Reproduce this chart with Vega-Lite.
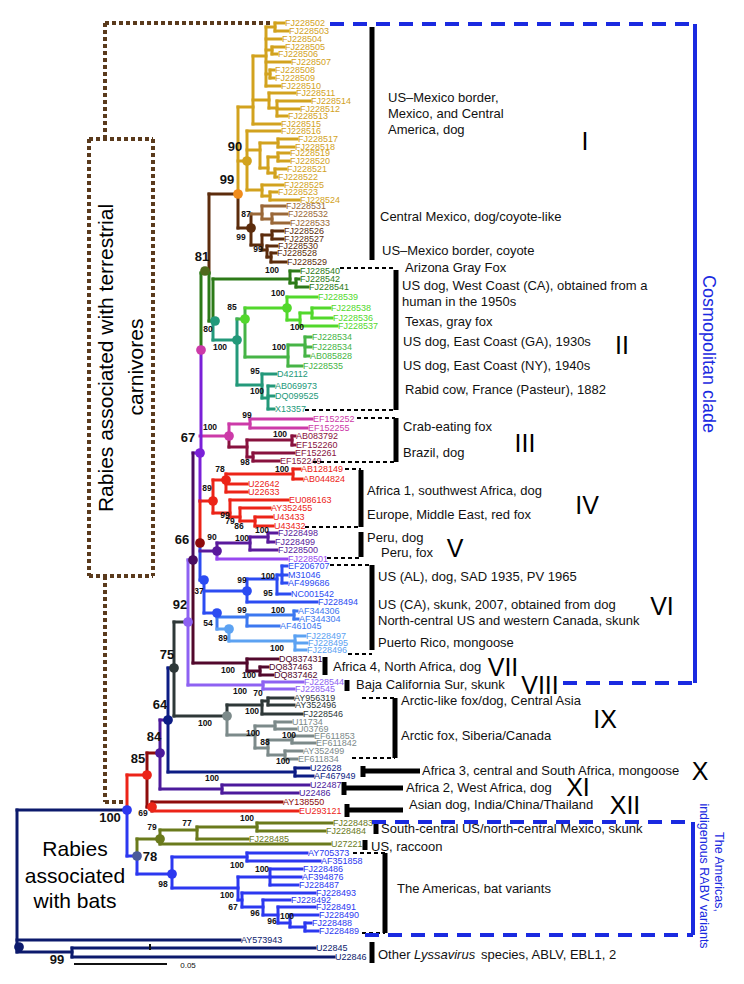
{
"$schema": "https://vega.github.io/schema/vega-lite/v6.json",
"width": 744, "height": 984, "padding": 0, "autosize": {"type": "none"},
"config": {"view": {"stroke": null}, "font": "Liberation Sans"},
"datasets": {
"seg": [
{"x":253,"x2":253,"y":56,"y2":124,"g":"gold"},{"x":238,"x2":238,"y":107,"y2":194,"g":"gold"},{"x":238,"x2":238,"y":194,"y2":228,"g":"brown"},
{"x":238,"x2":253,"y":107,"y2":107,"g":"gold"},{"x":238,"x2":247,"y":161,"y2":161,"g":"gold"},{"x":238,"x2":251,"y":228,"y2":228,"g":"brown"},{"x":209,"x2":238,"y":194,"y2":194,"g":"brown"},
{"x":266,"x2":266,"y":27,"y2":86,"g":"gold"},{"x":253,"x2":266,"y":56,"y2":56,"g":"gold"},{"x":266,"x2":275,"y":27,"y2":27,"g":"gold"},{"x":275,"x2":275,"y":23,"y2":31,"g":"gold"},
{"x":266,"x2":272,"y":50,"y2":50,"g":"gold"},{"x":272,"x2":272,"y":47,"y2":54,"g":"gold"},{"x":266,"x2":270,"y":74,"y2":74,"g":"gold"},{"x":270,"x2":270,"y":70,"y2":78,"g":"gold"},
{"x":253,"x2":269,"y":100,"y2":100,"g":"gold"},{"x":269,"x2":269,"y":93,"y2":108,"g":"gold"},{"x":269,"x2":277,"y":108,"y2":108,"g":"gold"},{"x":277,"x2":277,"y":101,"y2":116,"g":"gold"},
{"x":247,"x2":247,"y":131,"y2":190,"g":"gold"},{"x":247,"x2":260,"y":150,"y2":150,"g":"gold"},{"x":260,"x2":260,"y":143,"y2":168,"g":"gold"},{"x":260,"x2":278,"y":143,"y2":143,"g":"gold"},{"x":278,"x2":278,"y":139,"y2":147,"g":"gold"},
{"x":260,"x2":268,"y":168,"y2":168,"g":"gold"},{"x":268,"x2":268,"y":157,"y2":173,"g":"gold"},{"x":268,"x2":278,"y":157,"y2":157,"g":"gold"},{"x":278,"x2":278,"y":153,"y2":161,"g":"gold"},
{"x":268,"x2":275,"y":173,"y2":173,"g":"gold"},{"x":275,"x2":275,"y":169,"y2":177,"g":"gold"},{"x":247,"x2":262,"y":190,"y2":190,"g":"gold"},{"x":262,"x2":262,"y":185,"y2":196,"g":"gold"},
{"x":262,"x2":270,"y":196,"y2":196,"g":"gold"},{"x":270,"x2":270,"y":192,"y2":200,"g":"gold"},
{"x":251,"x2":251,"y":214,"y2":245,"g":"brown"},{"x":251,"x2":262,"y":214,"y2":214,"g":"lbrown"},{"x":262,"x2":262,"y":206,"y2":219,"g":"lbrown"},{"x":262,"x2":272,"y":219,"y2":219,"g":"lbrown"},{"x":272,"x2":272,"y":214,"y2":223,"g":"lbrown"},
{"x":251,"x2":262,"y":245,"y2":245,"g":"brown"},{"x":262,"x2":262,"y":235,"y2":250,"g":"brown"},{"x":262,"x2":272,"y":235,"y2":235,"g":"brown"},{"x":272,"x2":272,"y":231,"y2":239,"g":"brown"},
{"x":262,"x2":267,"y":250,"y2":250,"g":"brown"},{"x":267,"x2":267,"y":246,"y2":257,"g":"brown"},{"x":267,"x2":271,"y":257,"y2":257,"g":"brown"},{"x":271,"x2":271,"y":253,"y2":262,"g":"brown"},
{"x":209,"x2":209,"y":194,"y2":273,"g":"brown"},{"x":209,"x2":209,"y":273,"y2":321,"g":"dgreen"},{"x":201,"x2":209,"y":273,"y2":273,"g":"dgreen"},{"x":209,"x2":213,"y":321,"y2":321,"g":"dgreen"},
{"x":213,"x2":213,"y":279,"y2":321,"g":"dgreen"},{"x":213,"x2":213,"y":321,"y2":340,"g":"teal"},
{"x":213,"x2":290,"y":279,"y2":279,"g":"dgreen"},{"x":290,"x2":290,"y":271,"y2":283,"g":"dgreen"},{"x":290,"x2":296,"y":283,"y2":283,"g":"dgreen"},{"x":296,"x2":296,"y":279,"y2":287,"g":"dgreen"},
{"x":213,"x2":237,"y":340,"y2":340,"g":"teal"},{"x":237,"x2":237,"y":319,"y2":385,"g":"teal"},
{"x":237,"x2":245,"y":319,"y2":319,"g":"mgreen"},{"x":245,"x2":245,"y":308,"y2":357,"g":"mgreen"},
{"x":245,"x2":287,"y":308,"y2":308,"g":"bgreen"},{"x":287,"x2":287,"y":297,"y2":320,"g":"bgreen"},{"x":287,"x2":300,"y":320,"y2":320,"g":"bgreen"},{"x":300,"x2":300,"y":313,"y2":326,"g":"bgreen"},{"x":300,"x2":312,"y":313,"y2":313,"g":"bgreen"},{"x":312,"x2":312,"y":308,"y2":318,"g":"bgreen"},
{"x":245,"x2":288,"y":357,"y2":357,"g":"mgreen"},{"x":288,"x2":288,"y":345,"y2":366,"g":"mgreen"},{"x":288,"x2":305,"y":345,"y2":345,"g":"mgreen"},{"x":305,"x2":305,"y":337,"y2":356,"g":"mgreen"},
{"x":237,"x2":262,"y":385,"y2":385,"g":"teal"},{"x":262,"x2":262,"y":374,"y2":398,"g":"teal"},{"x":262,"x2":268,"y":398,"y2":398,"g":"teal"},{"x":268,"x2":268,"y":386,"y2":409,"g":"teal"},
{"x":200,"x2":229,"y":436,"y2":436,"g":"magenta"},{"x":229,"x2":229,"y":424,"y2":436,"g":"magenta"},{"x":229,"x2":229,"y":436,"y2":447,"g":"dmagenta"},
{"x":229,"x2":250,"y":424,"y2":424,"g":"magenta"},{"x":250,"x2":250,"y":419,"y2":428,"g":"magenta"},
{"x":229,"x2":247,"y":447,"y2":447,"g":"dmagenta"},{"x":247,"x2":247,"y":440,"y2":457,"g":"dmagenta"},{"x":247,"x2":292,"y":440,"y2":440,"g":"dmagenta"},{"x":292,"x2":292,"y":436,"y2":445,"g":"dmagenta"},{"x":247,"x2":253,"y":457,"y2":457,"g":"dmagenta"},{"x":253,"x2":253,"y":453,"y2":461,"g":"dmagenta"},
{"x":200,"x2":213,"y":501,"y2":501,"g":"red"},{"x":213,"x2":213,"y":480,"y2":513,"g":"red"},
{"x":213,"x2":226,"y":480,"y2":480,"g":"red"},{"x":226,"x2":226,"y":474,"y2":492,"g":"red"},{"x":226,"x2":293,"y":474,"y2":474,"g":"red"},{"x":293,"x2":293,"y":469,"y2":479,"g":"red"},
{"x":213,"x2":230,"y":513,"y2":513,"g":"red"},{"x":230,"x2":230,"y":500,"y2":517,"g":"red"},{"x":230,"x2":240,"y":517,"y2":517,"g":"red"},{"x":240,"x2":240,"y":508,"y2":521,"g":"red"},{"x":240,"x2":255,"y":521,"y2":521,"g":"red"},{"x":255,"x2":255,"y":517,"y2":526,"g":"red"},
{"x":201,"x2":201,"y":273,"y2":350,"g":"dgreen"},{"x":201,"x2":201,"y":350,"y2":453,"g":"purple"},{"x":200,"x2":200,"y":453,"y2":501,"g":"purple"},{"x":200,"x2":200,"y":501,"y2":543,"g":"red"},{"x":200,"x2":200,"y":543,"y2":580,"g":"blue"},
{"x":193,"x2":200,"y":453,"y2":453,"g":"purple"},
{"x":200,"x2":217,"y":551,"y2":551,"g":"dpurple"},{"x":217,"x2":217,"y":543,"y2":551,"g":"dpurple"},{"x":217,"x2":217,"y":551,"y2":559,"g":"lpurple"},
{"x":217,"x2":250,"y":543,"y2":543,"g":"dpurple"},{"x":250,"x2":250,"y":537,"y2":550,"g":"dpurple"},{"x":250,"x2":268,"y":537,"y2":537,"g":"dpurple"},{"x":268,"x2":268,"y":533,"y2":542,"g":"dpurple"},
{"x":200,"x2":204,"y":580,"y2":580,"g":"blue"},{"x":204,"x2":204,"y":580,"y2":613,"g":"blue"},
{"x":204,"x2":247,"y":591,"y2":591,"g":"blue"},{"x":247,"x2":247,"y":579,"y2":602,"g":"blue"},{"x":247,"x2":277,"y":579,"y2":579,"g":"blue"},{"x":277,"x2":277,"y":575,"y2":594,"g":"blue"},{"x":277,"x2":282,"y":575,"y2":575,"g":"blue"},{"x":282,"x2":282,"y":566,"y2":583,"g":"blue"},
{"x":204,"x2":217,"y":613,"y2":613,"g":"blue"},{"x":217,"x2":217,"y":613,"y2":629,"g":"lblue"},{"x":217,"x2":247,"y":617,"y2":617,"g":"lblue"},{"x":247,"x2":247,"y":615,"y2":626,"g":"lblue"},{"x":247,"x2":294,"y":615,"y2":615,"g":"lblue"},{"x":294,"x2":294,"y":611,"y2":619,"g":"lblue"},
{"x":217,"x2":229,"y":629,"y2":629,"g":"llblue"},{"x":229,"x2":229,"y":629,"y2":641,"g":"llblue"},{"x":229,"x2":295,"y":641,"y2":641,"g":"llblue"},{"x":295,"x2":295,"y":636,"y2":650,"g":"llblue"},
{"x":193,"x2":193,"y":453,"y2":560,"g":"dpspine"},{"x":193,"x2":193,"y":560,"y2":663,"g":"maroon"},
{"x":193,"x2":247,"y":663,"y2":663,"g":"maroon"},{"x":247,"x2":247,"y":659,"y2":671,"g":"maroon"},{"x":247,"x2":260,"y":671,"y2":671,"g":"maroon"},{"x":260,"x2":260,"y":667,"y2":675,"g":"maroon"},
{"x":188,"x2":193,"y":560,"y2":560,"g":"lilac"},{"x":188,"x2":188,"y":560,"y2":685,"g":"lilac"},{"x":188,"x2":263,"y":685,"y2":685,"g":"lilac"},{"x":263,"x2":263,"y":682,"y2":689,"g":"lilac"},
{"x":174,"x2":188,"y":622,"y2":622,"g":"slate"},{"x":174,"x2":174,"y":622,"y2":716,"g":"slate"},
{"x":174,"x2":227,"y":716,"y2":716,"g":"slate"},{"x":227,"x2":227,"y":705,"y2":716,"g":"slate"},{"x":227,"x2":227,"y":716,"y2":735,"g":"gray"},
{"x":227,"x2":262,"y":705,"y2":705,"g":"slate"},{"x":262,"x2":262,"y":701,"y2":714,"g":"slate"},{"x":262,"x2":268,"y":701,"y2":701,"g":"slate"},{"x":268,"x2":268,"y":698,"y2":705,"g":"slate"},
{"x":227,"x2":255,"y":735,"y2":735,"g":"gray"},{"x":255,"x2":255,"y":726,"y2":748,"g":"gray"},{"x":255,"x2":275,"y":726,"y2":726,"g":"gray"},{"x":275,"x2":275,"y":722,"y2":729,"g":"gray"},
{"x":255,"x2":268,"y":748,"y2":748,"g":"gray"},{"x":268,"x2":268,"y":740,"y2":755,"g":"gray"},{"x":268,"x2":292,"y":740,"y2":740,"g":"gray"},{"x":292,"x2":292,"y":736,"y2":743,"g":"gray"},{"x":268,"x2":285,"y":755,"y2":755,"g":"gray"},{"x":285,"x2":285,"y":751,"y2":759,"g":"gray"},
{"x":168,"x2":174,"y":668,"y2":668,"g":"navy"},{"x":168,"x2":168,"y":668,"y2":772,"g":"navy"},{"x":168,"x2":295,"y":772,"y2":772,"g":"navy"},{"x":295,"x2":295,"y":768,"y2":776,"g":"navy"},
{"x":160,"x2":168,"y":720,"y2":720,"g":"xi"},{"x":160,"x2":160,"y":720,"y2":789,"g":"xi"},{"x":160,"x2":222,"y":789,"y2":789,"g":"xi"},{"x":222,"x2":222,"y":785,"y2":793,"g":"xi"},
{"x":147,"x2":160,"y":753,"y2":753,"g":"dred"},{"x":147,"x2":147,"y":753,"y2":807,"g":"dred"},{"x":147,"x2":152,"y":807,"y2":807,"g":"dred"},{"x":152,"x2":152,"y":802,"y2":811,"g":"dred"},
{"x":127,"x2":147,"y":775,"y2":775,"g":"red"},{"x":127,"x2":127,"y":775,"y2":810,"g":"red"},{"x":127,"x2":127,"y":810,"y2":856,"g":"bat"},{"x":17,"x2":127,"y":810,"y2":810,"g":"root"},{"x":127,"x2":137,"y":856,"y2":856,"g":"bat"},
{"x":137,"x2":137,"y":839,"y2":856,"g":"olive"},{"x":137,"x2":137,"y":856,"y2":874,"g":"bat"},
{"x":137,"x2":160,"y":839,"y2":839,"g":"olive"},{"x":160,"x2":160,"y":830,"y2":844,"g":"olive"},{"x":160,"x2":197,"y":830,"y2":830,"g":"olive"},{"x":197,"x2":197,"y":827,"y2":839,"g":"olive"},{"x":197,"x2":257,"y":827,"y2":827,"g":"olive"},{"x":257,"x2":257,"y":823,"y2":831,"g":"olive"},
{"x":137,"x2":172,"y":874,"y2":874,"g":"bat"},{"x":172,"x2":172,"y":857,"y2":888,"g":"bat"},{"x":172,"x2":247,"y":857,"y2":857,"g":"bat"},{"x":247,"x2":247,"y":853,"y2":861,"g":"bat"},
{"x":172,"x2":238,"y":888,"y2":888,"g":"bat"},{"x":238,"x2":238,"y":877,"y2":900,"g":"bat"},{"x":238,"x2":270,"y":877,"y2":877,"g":"bat"},{"x":270,"x2":270,"y":869,"y2":885,"g":"bat"},
{"x":238,"x2":242,"y":900,"y2":900,"g":"bat"},{"x":242,"x2":242,"y":893,"y2":907,"g":"bat"},{"x":242,"x2":263,"y":907,"y2":907,"g":"bat"},{"x":263,"x2":263,"y":900,"y2":915,"g":"bat"},
{"x":263,"x2":278,"y":915,"y2":915,"g":"bat"},{"x":278,"x2":278,"y":907,"y2":923,"g":"bat"},{"x":278,"x2":290,"y":923,"y2":923,"g":"bat"},{"x":290,"x2":290,"y":915,"y2":927,"g":"bat"},{"x":290,"x2":305,"y":927,"y2":927,"g":"bat"},{"x":305,"x2":305,"y":923,"y2":931,"g":"bat"},
{"x":17,"x2":17,"y":810,"y2":952,"g":"root"},{"x":17,"x2":72,"y":952,"y2":952,"g":"root"},{"x":72,"x2":72,"y":948,"y2":957,"g":"root"}
],
"leaf": [
{"n":"FJ228502","p":275,"x":284,"y":23,"g":"gold"},{"n":"FJ228503","p":275,"x":288,"y":31,"g":"gold"},{"n":"FJ228504","p":266,"x":281,"y":39,"g":"gold"},{"n":"FJ228505","p":272,"x":284,"y":47,"g":"gold"},
{"n":"FJ228506","p":272,"x":277,"y":54,"g":"gold"},{"n":"FJ228507","p":266,"x":290,"y":62,"g":"gold"},{"n":"FJ228508","p":270,"x":274,"y":70,"g":"gold"},{"n":"FJ228509","p":270,"x":274,"y":78,"g":"gold"},
{"n":"FJ228510","p":266,"x":280,"y":86,"g":"gold"},{"n":"FJ228511","p":269,"x":295,"y":93,"g":"gold"},{"n":"FJ228514","p":277,"x":310,"y":101,"g":"gold"},{"n":"FJ228512","p":277,"x":299,"y":109,"g":"gold"},
{"n":"FJ228513","p":277,"x":287,"y":116,"g":"gold"},{"n":"FJ228515","p":253,"x":280,"y":124,"g":"gold"},{"n":"FJ228516","p":247,"x":280,"y":131,"g":"gold"},{"n":"FJ228517","p":278,"x":297,"y":139,"g":"gold"},
{"n":"FJ228518","p":278,"x":294,"y":147,"g":"gold"},{"n":"FJ228519","p":278,"x":289,"y":153,"g":"gold"},{"n":"FJ228520","p":278,"x":289,"y":161,"g":"gold"},{"n":"FJ228521","p":275,"x":286,"y":169,"g":"gold"},
{"n":"FJ228522","p":275,"x":277,"y":177,"g":"gold"},{"n":"FJ228525","p":262,"x":283,"y":185,"g":"gold"},{"n":"FJ228523","p":270,"x":277,"y":192,"g":"gold"},{"n":"FJ228524","p":270,"x":299,"y":200,"g":"gold"},
{"n":"FJ228531","p":262,"x":285,"y":206,"g":"lbrown"},{"n":"FJ228532","p":272,"x":287,"y":214,"g":"lbrown"},{"n":"FJ228533","p":272,"x":289,"y":223,"g":"lbrown"},
{"n":"FJ228526","p":272,"x":283,"y":231,"g":"brown"},{"n":"FJ228527","p":272,"x":283,"y":239,"g":"brown"},{"n":"FJ228530","p":267,"x":277,"y":246,"g":"brown"},{"n":"FJ228528","p":271,"x":276,"y":253,"g":"brown"},{"n":"FJ228529","p":271,"x":286,"y":262,"g":"brown"},
{"n":"FJ228540","p":290,"x":299,"y":271,"g":"dgreen"},{"n":"FJ228542","p":296,"x":299,"y":279,"g":"dgreen"},{"n":"FJ228541","p":296,"x":308,"y":287,"g":"dgreen"},
{"n":"FJ228539","p":287,"x":317,"y":297,"g":"bgreen"},{"n":"FJ228538","p":312,"x":330,"y":308,"g":"bgreen"},{"n":"FJ228536","p":312,"x":332,"y":318,"g":"bgreen"},{"n":"FJ228537","p":300,"x":337,"y":326,"g":"bgreen"},
{"n":"FJ228534","p":305,"x":311,"y":337,"g":"mgreen"},{"n":"FJ228534","p":305,"x":311,"y":347,"g":"mgreen"},{"n":"AB085828","p":305,"x":309,"y":356,"g":"mgreen"},{"n":"FJ228535","p":288,"x":302,"y":366,"g":"mgreen"},
{"n":"D42112","p":262,"x":276,"y":374,"g":"teal"},{"n":"AB069973","p":268,"x":274,"y":386,"g":"teal"},{"n":"DQ099525","p":268,"x":274,"y":396,"g":"teal"},{"n":"X13357","p":268,"x":274,"y":409,"g":"teal"},
{"n":"EF152252","p":250,"x":312,"y":419,"g":"magenta"},{"n":"EF152255","p":250,"x":307,"y":428,"g":"magenta"},{"n":"AB083792","p":292,"x":295,"y":436,"g":"dmagenta"},{"n":"EF152260","p":292,"x":295,"y":445,"g":"dmagenta"},
{"n":"EF152261","p":253,"x":294,"y":453,"g":"dmagenta"},{"n":"EF152249","p":253,"x":279,"y":461,"g":"dmagenta"},
{"n":"AB128149","p":293,"x":300,"y":469,"g":"red"},{"n":"AB044824","p":293,"x":302,"y":479,"g":"red"},{"n":"U22642","p":226,"x":247,"y":484,"g":"red"},{"n":"U22633","p":226,"x":247,"y":492,"g":"red"},
{"n":"EU086163","p":230,"x":288,"y":500,"g":"red"},{"n":"AY352455","p":240,"x":270,"y":508,"g":"red"},{"n":"U43433","p":255,"x":272,"y":517,"g":"red"},{"n":"U43432","p":255,"x":273,"y":526,"g":"red"},
{"n":"FJ228498","p":268,"x":277,"y":533,"g":"dpurple"},{"n":"FJ228499","p":268,"x":274,"y":542,"g":"dpurple"},{"n":"FJ228500","p":250,"x":277,"y":550,"g":"dpurple"},{"n":"FJ228501","p":217,"x":287,"y":559,"g":"lpurple"},
{"n":"EF206707","p":282,"x":287,"y":566,"g":"blue"},{"n":"M31046","p":282,"x":287,"y":575,"g":"blue"},{"n":"AF499686","p":282,"x":287,"y":583,"g":"blue"},{"n":"NC001542","p":277,"x":290,"y":594,"g":"blue"},{"n":"FJ228494","p":247,"x":317,"y":602,"g":"blue"},
{"n":"AF344306","p":294,"x":297,"y":611,"g":"lblue"},{"n":"AF344304","p":294,"x":298,"y":619,"g":"lblue"},{"n":"AF461045","p":247,"x":279,"y":626,"g":"lblue"},
{"n":"FJ228497","p":295,"x":305,"y":636,"g":"llblue"},{"n":"FJ228495","p":295,"x":307,"y":643,"g":"llblue"},{"n":"FJ228496","p":295,"x":306,"y":650,"g":"llblue"},
{"n":"DQ837431","p":247,"x":278,"y":659,"g":"maroon"},{"n":"DQ837463","p":260,"x":268,"y":667,"g":"maroon"},{"n":"DQ837462","p":260,"x":273,"y":675,"g":"maroon"},
{"n":"FJ228544","p":263,"x":303,"y":682,"g":"lilac"},{"n":"FJ228545","p":263,"x":294,"y":689,"g":"lilac"},
{"n":"AY956319","p":268,"x":293,"y":698,"g":"slate"},{"n":"AY352496","p":268,"x":294,"y":705,"g":"slate"},{"n":"FJ228546","p":262,"x":302,"y":714,"g":"slate"},
{"n":"U11734","p":275,"x":291,"y":722,"g":"gray"},{"n":"U03769","p":275,"x":296,"y":729,"g":"gray"},{"n":"EF611853","p":292,"x":313,"y":736,"g":"gray"},{"n":"EF611842","p":292,"x":315,"y":743,"g":"gray"},
{"n":"AY352499","p":285,"x":302,"y":751,"g":"gray"},{"n":"EF611834","p":285,"x":297,"y":759,"g":"gray"},
{"n":"U22628","p":295,"x":309,"y":768,"g":"navy"},{"n":"AF467949","p":295,"x":313,"y":776,"g":"navy"},{"n":"U22487","p":222,"x":309,"y":785,"g":"xi"},{"n":"U22486","p":222,"x":298,"y":793,"g":"xi"},
{"n":"AY138550","p":152,"x":282,"y":802,"g":"dred"},{"n":"EU293121","p":152,"x":298,"y":811,"g":"red"},
{"n":"FJ228483","p":257,"x":332,"y":823,"g":"olive"},{"n":"FJ228484","p":257,"x":325,"y":831,"g":"olive"},{"n":"FJ228485","p":197,"x":248,"y":839,"g":"olive"},{"n":"U27221","p":160,"x":330,"y":844,"g":"olive"},
{"n":"AY705373","p":247,"x":307,"y":853,"g":"bat"},{"n":"AF351858","p":247,"x":320,"y":861,"g":"bat"},{"n":"FJ228486","p":270,"x":302,"y":869,"g":"bat"},{"n":"AF394876","p":270,"x":301,"y":877,"g":"bat"},
{"n":"FJ228487","p":270,"x":298,"y":885,"g":"bat"},{"n":"FJ228493","p":242,"x":315,"y":893,"g":"bat"},{"n":"FJ228492","p":263,"x":290,"y":900,"g":"bat"},{"n":"FJ228491","p":278,"x":315,"y":907,"g":"bat"},
{"n":"FJ228490","p":290,"x":318,"y":915,"g":"bat"},{"n":"FJ228488","p":305,"x":311,"y":923,"g":"bat"},{"n":"FJ228489","p":305,"x":318,"y":931,"g":"bat"},
{"n":"AY573943","p":17,"x":240,"y":940,"g":"root"},{"n":"U22845","p":72,"x":315,"y":948,"g":"root"},{"n":"U22846","p":72,"x":334,"y":957,"g":"root"}
],
"dot": [
{"x":238,"y":194,"g":"iroot"},{"x":247,"y":161,"g":"gold"},{"x":251,"y":228,"g":"brown"},{"x":205,"y":271,"g":"n81"},{"x":245,"y":319,"g":"bgreen"},{"x":287,"y":308,"g":"bgreen"},
{"x":215,"y":321,"g":"teal"},{"x":237,"y":340,"g":"teal"},{"x":201,"y":350,"g":"magenta"},{"x":229,"y":436,"g":"magenta"},{"x":200,"y":453,"g":"purple"},{"x":226,"y":480,"g":"red"},
{"x":213,"y":501,"g":"red"},{"x":200,"y":543,"g":"dred"},{"x":217,"y":551,"g":"dpurple"},{"x":193,"y":560,"g":"dpspine"},{"x":204,"y":580,"g":"blue"},{"x":247,"y":591,"g":"blue"},
{"x":217,"y":613,"g":"blue"},{"x":229,"y":629,"g":"llblue"},{"x":188,"y":622,"g":"lilac"},{"x":174,"y":668,"g":"slate"},{"x":227,"y":716,"g":"gray"},{"x":168,"y":720,"g":"navy"},
{"x":160,"y":753,"g":"xi"},{"x":147,"y":775,"g":"red"},{"x":152,"y":807,"g":"red"},{"x":127,"y":810,"g":"bat"},{"x":160,"y":839,"g":"olive"},{"x":137,"y":856,"g":"n78"},
{"x":172,"y":874,"g":"bat"},{"x":19,"y":947,"g":"root"}
],
"bsbig": [
{"t":"90","x":235,"y":147},{"t":"99","x":227,"y":180},{"t":"81","x":202,"y":257},{"t":"67","x":188,"y":438},{"t":"66","x":182,"y":540},{"t":"92","x":180,"y":605},
{"t":"75","x":167,"y":655},{"t":"64","x":160,"y":705},{"t":"84","x":154,"y":737},{"t":"85","x":138,"y":759},{"t":"100","x":110,"y":818},{"t":"78","x":150,"y":857},{"t":"99","x":57,"y":960}
],
"bssmall": [
{"t":"87","x":246,"y":214},{"t":"99","x":241,"y":237},{"t":"99","x":258,"y":249},{"t":"100","x":272,"y":270},{"t":"100","x":278,"y":293},{"t":"85","x":232,"y":307},
{"t":"80","x":208,"y":329},{"t":"100","x":220,"y":347},{"t":"100","x":297,"y":327},{"t":"100","x":279,"y":347},{"t":"95","x":255,"y":371},{"t":"100","x":257,"y":391},
{"t":"99","x":247,"y":415},{"t":"100","x":210,"y":427},{"t":"100","x":280,"y":434},{"t":"98","x":245,"y":462},{"t":"78","x":220,"y":469},{"t":"100","x":282,"y":469},
{"t":"89","x":207,"y":488},{"t":"99","x":225,"y":515},{"t":"79","x":230,"y":521},{"t":"86","x":239,"y":526},{"t":"100","x":262,"y":530},{"t":"90","x":212,"y":537},
{"t":"100","x":242,"y":538},{"t":"99","x":242,"y":580},{"t":"100","x":268,"y":576},{"t":"95","x":268,"y":593},{"t":"37","x":199,"y":591},{"t":"99","x":242,"y":610},
{"t":"100","x":278,"y":610},{"t":"54","x":208,"y":623},{"t":"89","x":223,"y":638},{"t":"100","x":277,"y":648},{"t":"100","x":228,"y":670},{"t":"100","x":249,"y":675},
{"t":"100","x":240,"y":691},{"t":"70","x":258,"y":693},{"t":"100","x":252,"y":711},{"t":"100","x":205,"y":723},{"t":"100","x":253,"y":733},{"t":"88","x":265,"y":742},
{"t":"100","x":289,"y":735},{"t":"100","x":283,"y":761},{"t":"100","x":212,"y":778},{"t":"69","x":143,"y":813},{"t":"100","x":247,"y":818},{"t":"79","x":152,"y":827},
{"t":"77","x":187,"y":823},{"t":"100","x":237,"y":865},{"t":"100","x":262,"y":869},{"t":"98","x":163,"y":884},{"t":"100","x":227,"y":895},{"t":"67","x":233,"y":907},
{"t":"96","x":255,"y":913},{"t":"96","x":272,"y":921},{"t":"100","x":287,"y":916}
],
"ann": [
{"t":"US\u2013Mexico border,","x":388,"y":98},{"t":"Mexico, and Central","x":388,"y":114},{"t":"America, dog","x":388,"y":130},
{"t":"Central Mexico, dog/coyote-like","x":380,"y":217},{"t":"US\u2013Mexico border, coyote","x":382,"y":251},
{"t":"Arizona Gray Fox","x":405,"y":268},{"t":"US dog, West Coast (CA), obtained from a","x":402,"y":286},{"t":"human in the 1950s","x":402,"y":302},
{"t":"Texas, gray fox","x":405,"y":322},{"t":"US dog, East Coast (GA), 1930s","x":403,"y":342},{"t":"US dog, East Coast (NY), 1940s","x":403,"y":366},
{"t":"Rabid cow, France (Pasteur), 1882","x":405,"y":390},{"t":"Crab-eating fox","x":403,"y":427},{"t":"Brazil, dog","x":403,"y":453},
{"t":"Africa 1, southwest Africa, dog","x":367,"y":491},{"t":"Europe, Middle East, red fox","x":367,"y":515},{"t":"Peru, dog","x":367,"y":538},{"t":"Peru, fox","x":381,"y":553},
{"t":"US (AL), dog, SAD 1935, PV 1965","x":378,"y":577},{"t":"US (CA), skunk, 2007, obtained from dog","x":378,"y":605},{"t":"North-central US and western Canada, skunk","x":378,"y":621},
{"t":"Puerto Rico, mongoose","x":378,"y":643},{"t":"Africa 4, North Africa, dog","x":333,"y":667},{"t":"Baja California Sur, skunk","x":356,"y":685},
{"t":"Arctic-like fox/dog, Central Asia","x":401,"y":701},{"t":"Arctic fox, Siberia/Canada","x":401,"y":736},{"t":"Africa 3, central and South Africa, mongoose","x":422,"y":771},
{"t":"Africa 2, West Africa, dog","x":406,"y":788},{"t":"Asian dog, India/China/Thailand","x":409,"y":805},{"t":"South-central US/north-central Mexico, skunk","x":381,"y":829},
{"t":"US, raccoon","x":371,"y":847},{"t":"The Americas, bat variants","x":397,"y":889},{"t":"Other","x":378,"y":955},{"t":"species, ABLV, EBL1, 2","x":481,"y":955}
],
"ital": [{"t":"Lyssavirus","x":414,"y":955}],
"rom": [
{"t":"I","x":585,"y":142},{"t":"II","x":622,"y":346},{"t":"III","x":525,"y":444},{"t":"IV","x":587,"y":506},{"t":"V","x":455,"y":549},{"t":"VI","x":662,"y":607},
{"t":"VII","x":503,"y":668},{"t":"VIII","x":540,"y":686},{"t":"IX","x":605,"y":720},{"t":"X","x":700,"y":772},{"t":"XI","x":578,"y":788},{"t":"XII","x":625,"y":806}
],
"bars": [
{"x":372,"x2":372,"y":27,"y2":260},{"x":396,"x2":396,"y":270,"y2":410},{"x":396,"x2":396,"y":418,"y2":462},{"x":361,"x2":361,"y":470,"y2":527},{"x":361,"x2":361,"y":532,"y2":557},
{"x":372,"x2":372,"y":565,"y2":650},{"x":325,"x2":325,"y":657,"y2":675},{"x":347,"x2":347,"y":680,"y2":691},{"x":395,"x2":395,"y":698,"y2":758},
{"x":363,"x2":363,"y":766,"y2":777},{"x":363,"x2":420,"y":771,"y2":771},{"x":344,"x2":344,"y":782,"y2":795},{"x":344,"x2":403,"y":788,"y2":788},
{"x":347,"x2":347,"y":804,"y2":817},{"x":347,"x2":403,"y":810,"y2":810},{"x":376,"x2":376,"y":824,"y2":834},{"x":365,"x2":365,"y":840,"y2":850},
{"x":385,"x2":385,"y":853,"y2":933},{"x":372,"x2":372,"y":942,"y2":963}
],
"bdash": [
{"x":340,"x2":395,"y":268,"y2":268},{"x":305,"x2":395,"y":410,"y2":410},{"x":357,"x2":395,"y":418,"y2":418},{"x":313,"x2":395,"y":462,"y2":462},
{"x":345,"x2":361,"y":469,"y2":469},{"x":305,"x2":361,"y":527,"y2":527},{"x":327,"x2":361,"y":558,"y2":558},{"x":330,"x2":372,"y":565,"y2":565},
{"x":348,"x2":372,"y":654,"y2":654},{"x":362,"x2":395,"y":698,"y2":698},{"x":352,"x2":395,"y":758,"y2":758},{"x":353,"x2":385,"y":853,"y2":853},{"x":362,"x2":385,"y":933,"y2":933}
],
"blued": [
{"x":330,"x2":695,"y":24,"y2":24},{"x":563,"x2":695,"y":683,"y2":683},{"x":372,"x2":693,"y":822,"y2":822},{"x":365,"x2":693,"y":935,"y2":935}
],
"blues": [
{"x":695,"x2":695,"y":24,"y2":683},{"x":693,"x2":693,"y":822,"y2":935}
],
"brown": [
{"x":105,"x2":271,"y":23,"y2":23},{"x":105,"x2":105,"y":23,"y2":139},{"x":89,"x2":153,"y":139,"y2":139},{"x":89,"x2":153,"y":576,"y2":576},
{"x":89,"x2":89,"y":139,"y2":576},{"x":153,"x2":153,"y":139,"y2":576},{"x":105,"x2":105,"y":576,"y2":802},{"x":105,"x2":123,"y":802,"y2":802}
],
"thin": [
{"x":74,"x2":167,"y":964,"y2":964},{"x":150,"x2":150,"y":944,"y2":950}
],
"bigtext": [
{"t":"Rabies","x":75,"y":850},{"t":"associated","x":75,"y":877},{"t":"with bats","x":75,"y":902}
]
},
"layer": [
{"data": {"name": "brown"}, "mark": {"type": "rule", "strokeWidth": 4, "strokeDash": [4, 3], "color": "#5A3A1C"},
 "encoding": {"x": {"field": "x", "type": "quantitative", "scale": {"domain": [0, 744], "nice": false, "zero": false}, "axis": null},
  "x2": {"field": "x2"}, "y": {"field": "y", "type": "quantitative", "scale": {"domain": [0, 984], "nice": false, "zero": false, "reverse": true}, "axis": null}, "y2": {"field": "y2"}}},
{"data": {"name": "seg"}, "mark": {"type": "rule", "strokeWidth": 3, "strokeCap": "square"},
 "encoding": {"x": {"field": "x", "type": "quantitative"}, "x2": {"field": "x2"}, "y": {"field": "y", "type": "quantitative"}, "y2": {"field": "y2"},
  "color": {"field": "g", "type": "nominal", "legend": null,
   "scale": {"domain": ["gold","brown","lbrown","iroot","dgreen","n81","bgreen","mgreen","teal","magenta","dmagenta","purple","red","dred","dpurple","lpurple","blue","lblue","llblue","dpspine","maroon","lilac","slate","gray","navy","xi","olive","bat","root","n78"],
    "range": ["#D2A21E","#5C2C0C","#9A6838","#F08C1C","#2C7A18","#4E6A1C","#52D82C","#46B446","#23997A","#CC3AA8","#88123E","#7A20D8","#EC2418","#8E0C0C","#5A1A9C","#9848F0","#2C4CF2","#3C78F0","#5CA2F2","#4A0C60","#52082C","#8E62F2","#2E3838","#7C8A8A","#0C1C84","#4C1A9C","#6A7A1C","#2C38F0","#0C1A6C","#4A5A9A"]}}}},
{"data": {"name": "leaf"}, "mark": {"type": "rule", "strokeWidth": 3, "strokeCap": "square"},
 "encoding": {"x": {"field": "p", "type": "quantitative"}, "x2": {"field": "x"}, "y": {"field": "y", "type": "quantitative"}, "color": {"field": "g", "type": "nominal", "legend": null}}},
{"data": {"name": "dot"}, "mark": {"type": "point", "filled": true, "size": 95, "opacity": 1},
 "encoding": {"x": {"field": "x", "type": "quantitative"}, "y": {"field": "y", "type": "quantitative"}, "color": {"field": "g", "type": "nominal", "legend": null}}},
{"data": {"name": "leaf"}, "mark": {"type": "text", "align": "left", "baseline": "middle", "dx": 1, "fontSize": 9},
 "encoding": {"x": {"field": "x", "type": "quantitative"}, "y": {"field": "y", "type": "quantitative"}, "text": {"field": "n"}, "color": {"field": "g", "type": "nominal", "legend": null}}},
{"data": {"name": "bsbig"}, "mark": {"type": "text", "align": "center", "baseline": "middle", "fontSize": 13, "fontWeight": "bold", "color": "#111"},
 "encoding": {"x": {"field": "x", "type": "quantitative"}, "y": {"field": "y", "type": "quantitative"}, "text": {"field": "t"}}},
{"data": {"name": "bssmall"}, "mark": {"type": "text", "align": "center", "baseline": "middle", "fontSize": 8.5, "fontWeight": "bold", "color": "#111"},
 "encoding": {"x": {"field": "x", "type": "quantitative"}, "y": {"field": "y", "type": "quantitative"}, "text": {"field": "t"}}},
{"data": {"name": "bars"}, "mark": {"type": "rule", "strokeWidth": 5, "color": "#000"},
 "encoding": {"x": {"field": "x", "type": "quantitative"}, "x2": {"field": "x2"}, "y": {"field": "y", "type": "quantitative"}, "y2": {"field": "y2"}}},
{"data": {"name": "bdash"}, "mark": {"type": "rule", "strokeWidth": 2, "strokeDash": [4, 3], "color": "#000"},
 "encoding": {"x": {"field": "x", "type": "quantitative"}, "x2": {"field": "x2"}, "y": {"field": "y", "type": "quantitative"}, "y2": {"field": "y2"}}},
{"data": {"name": "blued"}, "mark": {"type": "rule", "strokeWidth": 4, "strokeDash": [14, 9], "color": "#1A2AE0"},
 "encoding": {"x": {"field": "x", "type": "quantitative"}, "x2": {"field": "x2"}, "y": {"field": "y", "type": "quantitative"}, "y2": {"field": "y2"}}},
{"data": {"name": "blues"}, "mark": {"type": "rule", "strokeWidth": 4, "color": "#1A2AE0"},
 "encoding": {"x": {"field": "x", "type": "quantitative"}, "x2": {"field": "x2"}, "y": {"field": "y", "type": "quantitative"}, "y2": {"field": "y2"}}},
{"data": {"name": "thin"}, "mark": {"type": "rule", "strokeWidth": 2, "color": "#111"},
 "encoding": {"x": {"field": "x", "type": "quantitative"}, "x2": {"field": "x2"}, "y": {"field": "y", "type": "quantitative"}, "y2": {"field": "y2"}}},
{"data": {"values": [{"t": "0.05", "x": 188, "y": 966}]}, "mark": {"type": "text", "align": "center", "baseline": "middle", "fontSize": 8, "color": "#111"},
 "encoding": {"x": {"field": "x", "type": "quantitative"}, "y": {"field": "y", "type": "quantitative"}, "text": {"field": "t"}}},
{"data": {"name": "ann"}, "mark": {"type": "text", "align": "left", "baseline": "middle", "fontSize": 13, "color": "#111"},
 "encoding": {"x": {"field": "x", "type": "quantitative"}, "y": {"field": "y", "type": "quantitative"}, "text": {"field": "t"}}},
{"data": {"name": "ital"}, "mark": {"type": "text", "align": "left", "baseline": "middle", "fontSize": 13, "fontStyle": "italic", "color": "#111"},
 "encoding": {"x": {"field": "x", "type": "quantitative"}, "y": {"field": "y", "type": "quantitative"}, "text": {"field": "t"}}},
{"data": {"name": "rom"}, "mark": {"type": "text", "align": "center", "baseline": "middle", "fontSize": 25, "color": "#000"},
 "encoding": {"x": {"field": "x", "type": "quantitative"}, "y": {"field": "y", "type": "quantitative"}, "text": {"field": "t"}}},
{"data": {"name": "bigtext"}, "mark": {"type": "text", "align": "center", "baseline": "middle", "fontSize": 21, "color": "#000"},
 "encoding": {"x": {"field": "x", "type": "quantitative"}, "y": {"field": "y", "type": "quantitative"}, "text": {"field": "t"}}},
{"data": {"values": [{"t": "Rabies associated with terrestrial", "x": 107, "y": 358}, {"t": "carnivores", "x": 137, "y": 367}]},
 "mark": {"type": "text", "align": "center", "baseline": "middle", "fontSize": 21, "angle": 270, "color": "#000"},
 "encoding": {"x": {"field": "x", "type": "quantitative"}, "y": {"field": "y", "type": "quantitative"}, "text": {"field": "t"}}},
{"data": {"values": [{"t": "Cosmopolitan clade", "x": 708, "y": 354}]},
 "mark": {"type": "text", "align": "center", "baseline": "middle", "fontSize": 18, "angle": 90, "color": "#1A2AE0"},
 "encoding": {"x": {"field": "x", "type": "quantitative"}, "y": {"field": "y", "type": "quantitative"}, "text": {"field": "t"}}},
{"data": {"values": [{"t": "The Americas,", "x": 719, "y": 872}, {"t": "indigenous RABV variants", "x": 704, "y": 876}]},
 "mark": {"type": "text", "align": "center", "baseline": "middle", "fontSize": 12.5, "angle": 90, "color": "#1A2AE0"},
 "encoding": {"x": {"field": "x", "type": "quantitative"}, "y": {"field": "y", "type": "quantitative"}, "text": {"field": "t"}}}
]
}
